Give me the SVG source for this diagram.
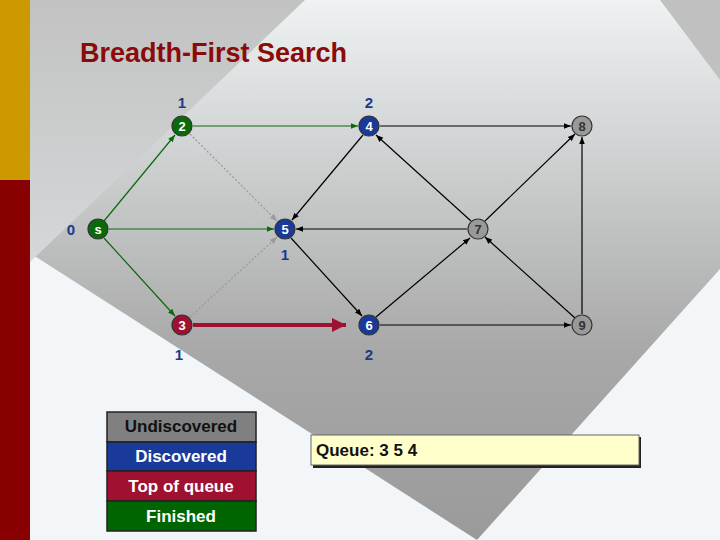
<svg xmlns="http://www.w3.org/2000/svg" width="720" height="540" viewBox="0 0 720 540">
<defs>
<linearGradient id="dg" x1="0" y1="0" x2="0" y2="1"><stop offset="0" stop-color="#eef2f3"/><stop offset="0.65" stop-color="#a8a8a8"/><stop offset="1" stop-color="#9a9a9a"/></linearGradient>
<linearGradient id="tl" x1="0" y1="0" x2="0" y2="1"><stop offset="0" stop-color="#c2c2c2"/><stop offset="1" stop-color="#d4d8d9"/></linearGradient>
<marker id="ak" viewBox="0 0 10 10" refX="10" refY="5" markerWidth="6" markerHeight="6" orient="auto"><path d="M0,1 L10,5 L0,9 z" fill="#000"/></marker>
<marker id="ag" viewBox="0 0 10 10" refX="10" refY="5" markerWidth="6" markerHeight="6" orient="auto"><path d="M0,1 L10,5 L0,9 z" fill="#0a6a0a"/></marker>
<marker id="ay" viewBox="0 0 10 10" refX="10" refY="5" markerWidth="6" markerHeight="6" orient="auto"><path d="M0,1 L10,5 L0,9 z" fill="#999"/></marker>
<marker id="ar" viewBox="0 0 10 10" refX="10" refY="5" markerWidth="3.5" markerHeight="3.5" orient="auto"><path d="M0,0 L10,5 L0,10 z" fill="#a01030"/></marker>
</defs>
<style>
.n{stroke:#333;stroke-width:1.2}
.nt{font-family:"Liberation Sans",sans-serif;font-weight:bold;font-size:13px;text-anchor:middle;fill:#fff}
.d{font-family:"Liberation Sans",sans-serif;font-weight:bold;font-size:15px;text-anchor:middle;fill:#1a3a8a}
.lg{font-family:"Liberation Sans",sans-serif;font-weight:bold;font-size:17px;text-anchor:middle;fill:#fff}
.k{stroke:#000;stroke-width:1.2;fill:none;marker-end:url(#ak)}
.g{stroke:#0a6a0a;stroke-width:1.2;fill:none;marker-end:url(#ag)}
.y{stroke:#999;stroke-width:1.2;stroke-dasharray:2,2;fill:none;marker-end:url(#ay)}
</style>
<rect width="720" height="540" fill="#f2f6f8"/>
<polygon points="30,0 660,0 720,80 720,269 477,540 30,253" fill="url(#dg)"/>
<polygon points="30,0 305,0 30,262" fill="url(#tl)"/>
<polygon points="660,0 720,0 720,80" fill="#c0c0c0"/>
<rect x="0" y="0" width="30" height="180" fill="#cc9900"/>
<rect x="0" y="180" width="30" height="360" fill="#880000"/>
<text x="80" y="62" font-family="Liberation Sans,sans-serif" font-weight="bold" font-size="27" fill="#8b0a0a">Breadth-First Search</text>
<g id="connectors">
<line class="g" x1="104" y1="221" x2="175" y2="135"/>
<line class="g" x1="109" y1="229" x2="274" y2="229"/>
<line class="g" x1="104" y1="238" x2="175" y2="316"/>
<line class="g" x1="193" y1="126" x2="358" y2="126"/>
<line class="y" x1="190" y1="134" x2="277" y2="221"/>
<line class="y" x1="190" y1="317" x2="277" y2="237"/>
<line x1="193" y1="325" x2="346" y2="325" stroke="#a01030" stroke-width="4" marker-end="url(#ar)"/>
<line class="k" x1="380" y1="126" x2="571" y2="126"/>
<line class="k" x1="363" y1="135" x2="292" y2="220"/>
<line class="k" x1="471" y1="221" x2="376" y2="135"/>
<line class="k" x1="467" y1="229" x2="296" y2="229"/>
<line class="k" x1="291" y1="238" x2="362" y2="316"/>
<line class="k" x1="376" y1="317" x2="470" y2="238"/>
<line class="k" x1="485" y1="221" x2="575" y2="134"/>
<line class="k" x1="575" y1="318" x2="485" y2="237"/>
<line class="k" x1="582" y1="314" x2="582" y2="137"/>
<line class="k" x1="380" y1="325" x2="571" y2="325"/>
</g>
<g id="node-s"><circle class="n" cx="98" cy="229" r="10" fill="#0a6a0a"/><text class="nt" x="98" y="234">s</text></g>
<g id="node-2"><circle class="n" cx="182" cy="126" r="10" fill="#0a6a0a"/><text class="nt" x="182" y="131">2</text></g>
<g id="node-3"><circle class="n" cx="182" cy="325" r="10" fill="#a01030"/><text class="nt" x="182" y="330">3</text></g>
<g id="node-4"><circle class="n" cx="369" cy="126" r="10" fill="#1a3a9a"/><text class="nt" x="369" y="131">4</text></g>
<g id="node-5"><circle class="n" cx="285" cy="229" r="10" fill="#1a3a9a"/><text class="nt" x="285" y="234">5</text></g>
<g id="node-6"><circle class="n" cx="369" cy="325" r="10" fill="#1a3a9a"/><text class="nt" x="369" y="330">6</text></g>
<g id="node-7"><circle class="n" cx="478" cy="229" r="10" fill="#999"/><text class="nt" x="478" y="234" style="fill:#333">7</text></g>
<g id="node-8"><circle class="n" cx="582" cy="126" r="10" fill="#999"/><text class="nt" x="582" y="131" style="fill:#333">8</text></g>
<g id="node-9"><circle class="n" cx="582" cy="325" r="10" fill="#999"/><text class="nt" x="582" y="330" style="fill:#333">9</text></g>
<text class="d" x="182" y="108">1</text>
<text class="d" x="369" y="108">2</text>
<text class="d" x="71" y="235">0</text>
<text class="d" x="285" y="260">1</text>
<text class="d" x="179" y="360">1</text>
<text class="d" x="369" y="360">2</text>
<g id="legend" stroke="#222" stroke-width="1.5">
<rect x="107" y="412" width="149" height="30" fill="#808080"/>
<rect x="107" y="442" width="149" height="29" fill="#1a3a9a"/>
<rect x="107" y="471" width="149" height="30" fill="#a01030"/>
<rect x="107" y="501" width="149" height="30" fill="#006400"/>
</g>
<text class="lg" x="181" y="432" style="fill:#111">Undiscovered</text>
<text class="lg" x="181" y="462">Discovered</text>
<text class="lg" x="181" y="492">Top of queue</text>
<text class="lg" x="181" y="522">Finished</text>
<g id="queue">
<rect x="313" y="437" width="328" height="31" fill="#222"/>
<rect x="311" y="435" width="328" height="30" fill="#ffffcc" stroke="#666" stroke-width="1"/>
<text x="316" y="456" font-family="Liberation Sans,sans-serif" font-weight="bold" font-size="17" fill="#111">Queue: 3 5 4</text>
</g>
</svg>
